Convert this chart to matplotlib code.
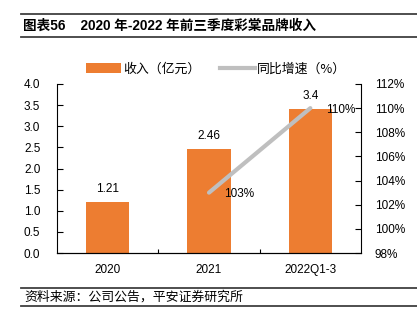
import matplotlib
matplotlib.use('Agg')
import matplotlib.pyplot as plt
from matplotlib.lines import Line2D
from matplotlib.patches import Patch

plt.rcParams['font.family'] = ['Liberation Sans', 'Noto Sans CJK SC', 'DejaVu Sans']

# ─── Data ────────────────────────────────────────────────────────────────────
categories = ['2020', '2021', '2022Q1-3']
revenue = [1.21, 2.46, 3.4]
revenue_labels = ['1.21', '2.46', '3.4']
growth_cats = [1, 2]
growth = [103, 110]
growth_labels = ['103%', '110%']

ORANGE = '#ED7D31'
GREY = '#BFBFBF'

fig = plt.figure(figsize=(4.17, 3.21), dpi=100)
W, H = 417, 321

# ─── Header / footer rules and text ─────────────────────────────────────────
def hline(y, x0=21, x1=417, lw=1.3):
    fig.add_artist(Line2D([x0 / W, x1 / W], [1 - y / H, 1 - y / H],
                          color='#404040', lw=lw, transform=fig.transFigure))

hline(14)
hline(37)
hline(288)
hline(306)
fig.text(23 / W, 1 - 26 / H, '图表56    2020 年-2022 年前三季度彩棠品牌收入',
         fontsize=9.8, fontweight='bold', va='center', ha='left',
         family=['Liberation Sans', 'Noto Sans CJK SC'])
fig.text(24 / W, 1 - 297 / H, '资料来源：公司公告，平安证券研究所',
         fontsize=9.3, va='center', ha='left', style='italic',
         family=['Noto Sans CJK SC'])

# ─── Axes ───────────────────────────────────────────────────────────────────
ax = fig.add_axes([57 / W, 1 - 253 / H, (361 - 57) / W, (253 - 84) / H])
x = range(len(categories))
bars = ax.bar(x, revenue, width=0.43, color=ORANGE, zorder=2)
for xi, v, lab in zip(x, revenue, revenue_labels):
    ax.annotate(lab, (xi, v), xytext=(0, 5), textcoords='offset points',
                ha='center', va='bottom', fontsize=8.5)

ax.set_xlim(-0.5, 2.5)
ax.set_ylim(0, 4.0)
ax.set_yticks([0, 0.5, 1.0, 1.5, 2.0, 2.5, 3.0, 3.5, 4.0])
ax.set_yticklabels([f'{t:.1f}' for t in ax.get_yticks()])
ax.set_xticks([0.5, 1.5])
ax.set_xticklabels([])
ax.set_xticks(list(x), minor=True)
ax.set_xticklabels(categories, minor=True)
ax.tick_params(axis='x', which='major', direction='in', length=3)
ax.tick_params(axis='x', which='minor', length=0, pad=8, labelsize=8.5)
ax.tick_params(axis='y', direction='in', length=4, labelsize=8.5, pad=12)
for s in ['top', 'right']:
    ax.spines[s].set_visible(False)

ax2 = ax.twinx()
ax2.plot(growth_cats, growth, color=GREY, lw=3, solid_capstyle='round', zorder=3)
for xi, v, lab in zip(growth_cats, growth, growth_labels):
    ax2.annotate(lab, (xi, v), xytext=(11, -1.0), textcoords='offset points',
                 ha='left', va='center', fontsize=8.5)
ax2.set_ylim(98, 112)
ax2.set_yticks(range(98, 113, 2))
ax2.set_yticklabels([f'{t}%' for t in range(98, 113, 2)])
ax2.tick_params(axis='y', direction='in', length=4, labelsize=8.5, pad=10)
for s in ['top', 'left']:
    ax2.spines[s].set_visible(False)

# ─── Legend ─────────────────────────────────────────────────────────────────
handles = [Patch(facecolor=ORANGE, edgecolor='none'),
           Line2D([], [], color=GREY, lw=3)]
fig.legend(handles, ['收入（亿元）', '同比增速（%）'], loc='center',
           bbox_to_anchor=(216 / W, 1 - 69 / H), ncol=2, frameon=False,
           handlelength=2.7, handletextpad=0.15, columnspacing=1.5,
           prop={'family': ['Noto Sans CJK SC'], 'size': 9.3})

fig.savefig('out.png', dpi=100)
